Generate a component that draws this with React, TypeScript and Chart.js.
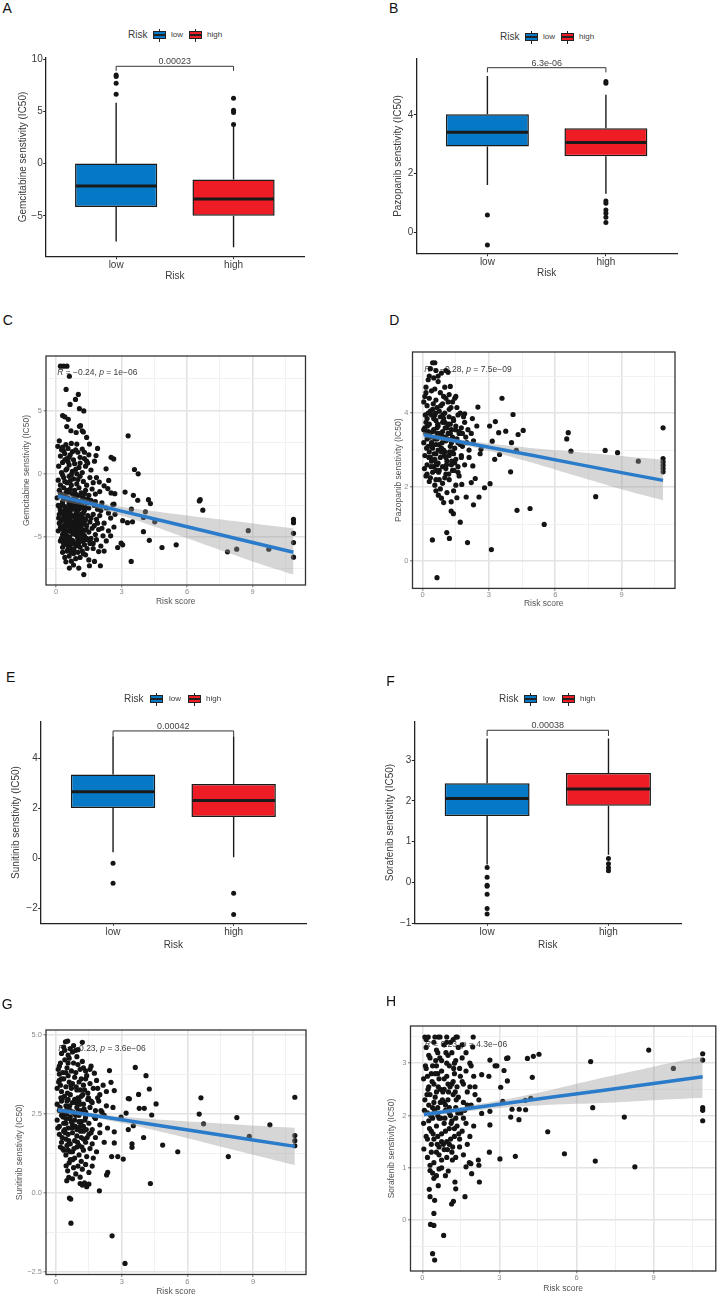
import React, { useEffect, useRef } from 'react';
import { Chart, registerables } from 'chart.js';

Chart.register(...registerables);

const FONT = '"Liberation Sans", Arial, Helvetica, sans-serif';

// ---------- Box plot data ----------
const riskGroups = ['low', 'high'];
const riskColors = ['#0679C6', '#EE1C25'];

// [lower whisker, Q1, median, Q3, upper whisker]
const gemBoxLow = [-7.45, -4.14, -2.13, 0.03, 5.83];
const gemBoxHigh = [-8.0, -4.97, -3.37, -1.5, 3.53];
const gemOutLow = [8.5, 8.35, 7.7, 6.66];
const gemOutHigh = [6.27, 5.13, 4.9, 3.76];
const gemBoxTicks = [-5, 0, 5, 10];
const gemBoxTickLabels = ['−5', '0', '5', '10'];
const gemP = '0.00023';

const pazBoxLow = [1.61, 2.92, 3.41, 4.02, 5.33];
const pazBoxHigh = [1.31, 2.59, 3.06, 3.55, 4.69];
const pazOutLow = [0.59, -0.43];
const pazOutHigh = [5.14, 5.08, 1.07, 0.99, 0.76, 0.65, 0.51, 0.33];
const pazBoxTicks = [0, 2, 4];
const pazBoxTickLabels = ['0', '2', '4'];
const pazP = '6.3e-06';

const sunBoxLow = [0.25, 2.03, 2.68, 3.37, 4.9];
const sunBoxHigh = [0.05, 1.67, 2.33, 2.99, 4.9];
const sunOutLow = [-0.19, -0.99];
const sunOutHigh = [-1.39, -2.24];
const sunBoxTicks = [-2, 0, 2, 4];
const sunBoxTickLabels = ['−2', '0', '2', '4'];
const sunP = '0.00042';

const sorBoxLow = [0.44, 1.63, 2.06, 2.43, 3.53];
const sorBoxHigh = [0.68, 1.88, 2.29, 2.68, 3.53];
const sorOutLow = [0.37, 0.13, -0.07, -0.09, -0.29, -0.64, -0.77];
const sorOutHigh = [0.59, 0.46, 0.36, 0.29];
const sorBoxTicks = [-1, 0, 1, 2, 3];
const sorBoxTickLabels = ['−1', '0', '1', '2', '3'];
const sorP = '0.00038';

// ---------- Scatter data (risk score, IC50) ----------
const riskTicksAll = [0, 1.5, 3, 4.5, 6, 7.5, 9, 10.5];
const riskTicksMajor = [0, 3, 6, 9];
const riskTickLabels = ['0', '3', '6', '9'];

const gemScatter = [
  [0.2,8.5],[0.35,8.5],[0.5,8.5],[0.61,7.7],[0.46,6.66],[1.02,6.27],[0.89,5.87],[0.64,5.48],[1.07,5.14],[1.27,4.96],
  [0.3,4.6],[0.4,4.5],[0.56,4.3],[0.49,3.73],[1.07,3.75],[1.12,3.8],[1.2,3.4],[1.25,3.3],[0.92,3.26],[0.68,3.4],
  [3.3,3.0],[1.4,2.87],[0.15,2.6],[1.53,2.35],[0.08,2.17],[0.95,2.35],[1.9,2.0],[0.7,2.4],[0.45,2.3],[0.3,2.1],
  [0.55,2.0],[1.2,1.95],[0.35,1.8],
  [0.2,1.4],[0.4,1.6],[0.5,1.2],[0.65,1.5],[0.8,1.1],[1.0,1.7],[1.1,1.3],[1.3,1.2],[1.5,1.5],[1.83,1.44],[2.52,1.3],
  [2.64,1.17],[0.9,1.9],[1.4,1.0],[1.76,1.0],
  [0.12,0.6],[0.3,0.9],[0.45,0.3],[0.6,0.7],[0.75,0.2],[0.85,0.8],[1.05,0.5],[1.2,0.1],[1.35,0.6],[1.6,0.3],[2.29,0.39],
  [0.25,0.1],[0.55,0.95],[0.95,0.0],[1.45,0.85],[3.59,0.34],[3.76,0.0],
  [0.1,-0.5],[0.2,-0.9],[0.35,-0.3],[0.5,-0.7],[0.6,-0.2],[0.7,-0.9],[0.8,-0.4],[0.95,-0.8],[1.1,-0.2],[1.25,-0.6],
  [1.4,-0.9],[1.55,-0.3],[1.7,-0.7],[1.98,-0.65],[2.41,-0.52],[2.2,-0.95],[0.4,-0.6],[0.65,-0.55],[1.0,-0.45],[1.85,-0.3],
  [0.05,-1.9],[0.15,-1.3],[0.25,-1.7],[0.35,-1.1],[0.45,-1.5],[0.55,-1.9],[0.65,-1.2],[0.75,-1.6],[0.85,-1.3],[0.95,-1.8],
  [1.05,-1.1],[1.15,-1.5],[1.25,-1.9],[1.35,-1.3],[1.5,-1.7],[1.65,-1.2],[1.8,-1.6],[2.0,-1.4],[2.37,-1.17],[2.52,-1.51],
  [2.69,-1.57],[0.5,-1.3],[0.8,-1.95],[1.1,-1.7],[3.16,-1.44],[3.54,-1.7],
  [0.1,-2.5],[0.2,-2.9],[0.3,-2.2],[0.4,-2.6],[0.5,-2.9],[0.6,-2.3],[0.7,-2.7],[0.8,-2.1],[0.9,-2.5],[1.0,-2.9],
  [1.1,-2.2],[1.2,-2.6],[1.3,-2.9],[1.4,-2.3],[1.5,-2.7],[1.6,-2.1],[1.75,-2.5],[1.9,-2.8],[2.1,-2.3],[2.3,-2.7],
  [2.6,-2.43],[2.65,-2.4],[0.35,-2.0],[0.65,-2.95],[1.05,-2.45],[1.45,-2.0],[0.25,-2.45],[0.55,-2.6],[0.85,-2.8],[1.15,-2.4],
  [3.74,-2.09],[4.23,-2.04],[4.32,-2.35],[6.56,-2.14],[6.6,-2.04],[6.72,-2.87],[3.45,-2.79],
  [0.15,-3.2],[0.25,-3.7],[0.35,-3.4],[0.45,-3.9],[0.55,-3.1],[0.65,-3.6],[0.75,-3.3],[0.85,-3.8],[0.95,-3.2],[1.05,-3.5],
  [1.15,-3.9],[1.25,-3.1],[1.35,-3.6],[1.45,-3.3],[1.55,-3.8],[1.7,-3.2],[1.85,-3.6],[2.0,-3.3],[2.2,-3.9],[2.5,-3.5],
  [2.7,-3.2],[0.5,-3.5],[0.9,-3.95],[1.2,-3.4],[0.3,-3.05],[0.75,-3.85],[0.4,-3.55],[0.6,-3.25],[1.0,-3.7],[1.3,-3.95],
  [4.09,-3.0],[4.0,-3.45],[4.52,-3.79],[3.05,-3.7],[3.27,-3.86],[3.5,-3.79],
  [0.1,-4.5],[0.2,-4.2],[0.3,-4.8],[0.4,-4.4],[0.5,-4.9],[0.6,-4.1],[0.7,-4.6],[0.8,-4.3],[0.9,-4.8],[1.0,-4.2],
  [1.1,-4.7],[1.2,-4.4],[1.3,-4.9],[1.4,-4.1],[1.5,-4.6],[1.65,-4.3],[1.8,-4.8],[1.95,-4.4],[2.15,-4.9],[2.4,-4.5],
  [2.65,-4.2],[0.45,-4.65],[0.85,-4.05],[1.25,-4.55],[0.35,-4.1],[0.65,-4.35],[0.95,-4.5],[1.15,-4.15],[4.0,-4.57],
  [0.2,-5.3],[0.3,-5.8],[0.4,-5.2],[0.5,-5.6],[0.6,-5.1],[0.7,-5.9],[0.8,-5.4],[0.9,-5.7],[1.0,-5.2],[1.1,-5.8],
  [1.2,-5.3],[1.3,-5.6],[1.4,-5.1],[1.55,-5.5],[1.7,-5.9],[1.85,-5.2],[2.05,-5.7],[2.3,-5.3],[2.98,-5.48],[3.05,-5.61],
  [2.82,-5.82],[0.55,-5.95],[1.05,-5.45],[0.35,-5.5],[0.75,-5.25],[4.27,-5.25],[4.85,-5.82],[5.5,-5.61],
  [0.3,-6.2],[0.4,-6.6],[0.5,-6.1],[0.6,-6.5],[0.7,-6.9],[0.8,-6.3],[0.9,-6.7],[1.0,-6.2],[1.1,-6.6],[1.2,-6.1],
  [1.35,-6.4],[1.5,-6.8],[1.95,-6.14],[1.76,-6.92],[2.2,-6.1],[0.45,-6.95],[3.44,-6.92],
  [0.61,-7.44],[1.04,-7.44],[1.53,-7.26],[2.03,-7.26],[1.27,-7.96],[0.8,-7.2],
  [8.8,-4.49],[7.85,-6.16],[8.27,-5.95],[9.74,-5.95],[10.87,-3.6],[10.87,-3.86],[10.87,-4.7],[10.87,-5.43],[10.87,-6.58]
];
const gemScatterDense = [
  [0.22,-3.0],[0.32,-3.6],[0.42,-4.2],[0.52,-4.5],[0.62,-5.0],[0.72,-5.5],[0.82,-6.0],[0.92,-3.1],[1.02,-3.3],[1.12,-3.55],
  [1.22,-4.8],[1.32,-5.2],[1.42,-5.9],[0.28,-4.35],[0.38,-5.0],[0.48,-5.35],[0.58,-5.75],[0.68,-6.2],[0.78,-4.75],[0.88,-4.6],
  [0.98,-5.0],[1.08,-4.0],[1.18,-5.0],[1.28,-3.7],[1.38,-4.4],[1.48,-5.2],[0.18,-2.7],[0.3,-2.45],[0.42,-2.9],[0.58,-2.1],
  [0.7,-2.35],[0.82,-2.6],[0.95,-2.2],[1.08,-2.75],[1.2,-2.05],[1.33,-2.65],[0.2,-1.55],[0.4,-1.75],[0.6,-1.45],[0.9,-1.6],
  [1.3,-1.55],[0.55,-3.75],[0.65,-4.0],[0.85,-3.45],[1.0,-4.4],[1.15,-3.2],[0.45,-3.15],[0.35,-4.65],[0.75,-4.15],[0.95,-5.55],
  [1.25,-6.3],[0.25,-5.1],[0.62,-5.3],[1.6,-5.1],[1.75,-4.1],[1.9,-3.9],[2.1,-4.3],[1.6,-3.5],[1.8,-2.2],[2.05,-2.9],
  [2.4,-3.1],[1.7,-5.5],[2.5,-4.9],[0.15,-3.9],[0.12,-3.5],[0.3,-0.1],[0.5,0.4],[0.7,-0.05],[0.9,0.35],[1.1,0.85],
  [0.4,1.1],[0.6,1.3],[0.25,1.9],[0.75,1.75],[1.3,1.7]
];
const gemCiX = [0.08, 1.5, 3, 5, 7, 9, 10.87];
const gemFit = [-1.75, -2.33, -2.95, -3.77, -4.6, -5.42, -6.19];
const gemCiLow = [-2.1, -2.58, -3.3, -4.47, -5.7, -6.92, -7.96];
const gemCiHigh = [-1.4, -2.08, -2.6, -3.07, -3.5, -3.92, -4.31];
const gemYTicks = [-7.5, -5, -2.5, 0, 2.5, 5, 7.5];
const gemYMajor = [-5, 0, 5];
const gemYLabels = ['−5', '0', '5'];

const pazScatter = [
  [0.45,5.36],[0.55,5.36],[0.35,5.2],[0.6,5.15],[0.85,5.08],[1.05,5.15],[1.15,5.1],[0.25,4.9],[0.5,4.95],[0.7,4.85],
  [1.0,4.7],[1.25,4.72],[0.15,4.55],[0.4,4.6],[0.8,4.55],[1.2,4.5],[1.5,4.45],[0.1,4.45],
  [0.05,4.3],[0.2,4.2],[0.3,4.4],[0.45,4.1],[0.6,4.35],[0.75,4.05],[0.9,4.25],[1.05,4.4],[1.2,4.1],[1.35,4.3],
  [1.55,4.15],[1.7,4.0],[1.9,3.98],[2.5,4.16],[0.35,4.05],[0.65,4.15],[1.45,4.4],[1.0,4.0],
  [0.1,3.6],[0.2,3.85],[0.3,3.7],[0.4,3.95],[0.5,3.55],[0.6,3.8],[0.7,3.65],[0.8,3.9],[0.9,3.5],[1.0,3.75],
  [1.1,3.6],[1.2,3.9],[1.3,3.55],[1.4,3.8],[1.5,3.65],[1.6,3.95],[1.75,3.6],[1.9,3.75],[2.05,3.55],[2.25,3.85],
  [2.45,3.65],[0.25,3.5],[0.55,3.95],[0.95,3.85],[1.25,3.7],[1.65,3.5],[0.15,3.75],[0.65,3.6],[1.15,3.7],
  [0.05,3.2],[0.15,3.45],[0.25,3.1],[0.35,3.35],[0.45,3.05],[0.55,3.3],[0.65,3.45],[0.75,3.15],[0.85,3.4],[0.95,3.0],
  [1.05,3.25],[1.15,3.45],[1.25,3.1],[1.35,3.35],[1.45,3.05],[1.55,3.3],[1.65,3.45],[1.8,3.1],[1.95,3.35],[2.1,3.0],
  [2.3,3.25],[2.64,3.02],[0.4,3.2],[0.7,3.0],[1.0,3.35],[1.3,3.2],[1.7,3.15],[2.2,3.45],[0.2,3.3],[0.6,3.15],
  [0.1,2.85],[0.2,2.6],[0.3,2.95],[0.4,2.7],[0.5,2.55],[0.6,2.9],[0.7,2.65],[0.8,2.8],[0.9,2.55],[1.0,2.95],
  [1.1,2.7],[1.2,2.85],[1.3,2.6],[1.4,2.9],[1.5,2.75],[1.6,2.55],[1.75,2.85],[1.9,2.6],[2.27,2.57],[2.1,2.8],
  [0.35,2.8],[0.65,2.6],[1.05,2.5],[1.45,2.65],[0.55,2.75],[0.85,2.95],
  [0.15,2.3],[0.3,2.15],[0.45,2.4],[0.6,2.2],[0.75,2.45],[0.9,2.1],[1.05,2.35],[1.2,2.2],[1.35,2.45],[1.5,2.05],
  [1.65,2.3],[1.77,2.07],[2.2,2.12],[2.38,2.23],[0.55,2.05],[1.0,2.25],
  [0.6,1.9],[0.71,1.78],[0.8,1.95],[0.95,1.58],[1.1,1.85],[1.29,1.6],[1.55,1.71],[1.97,1.73],[2.3,1.52],[2.55,1.73],
  [0.85,1.7],[1.4,1.9],
  [1.29,1.35],[1.39,1.28],[1.7,1.05],[1.09,0.77],[1.21,0.61],[0.44,0.57],[2.03,0.5],[3.11,0.31],[0.65,-0.45],
  [4.27,1.37],[4.86,1.42],[5.5,0.99],[2.8,1.98],[3.05,2.09],[3.98,2.41],[3.26,2.75],
  [3.59,4.4],[4.09,3.96],[3.03,3.65],[3.29,3.77],[3.76,3.51],[3.44,3.47],[4.32,3.42],[4.55,3.53],[3.15,3.24],[4.02,3.2],
  [4.24,2.99],[3.48,2.88],[2.6,2.9],[6.52,3.3],[6.59,3.47],[6.71,2.97],[8.26,2.99],[8.82,2.93],[9.76,2.7],
  [10.88,3.6],[10.88,2.77],[10.88,2.68],[10.88,2.59],[10.88,2.5],[10.88,2.41],[7.83,1.74]
];
const pazScatterDense = [
  [0.12,3.95],[0.22,3.65],[0.32,3.4],[0.42,3.15],[0.52,2.9],[0.62,2.65],[0.72,2.4],[0.82,4.2],[0.92,3.95],[1.02,3.6],
  [1.12,3.3],[1.22,2.95],[1.32,2.7],[1.42,2.45],[0.18,3.05],[0.28,2.8],[0.38,2.55],[0.48,4.25],[0.58,4.0],[0.68,3.7],
  [0.78,3.45],[0.88,3.2],[0.98,2.85],[1.08,2.6],[1.18,2.35],[1.28,4.15],[1.38,3.85],[1.48,3.55],[0.08,2.5],[0.25,4.0],
  [0.45,3.5],[0.65,3.3],[0.85,3.05],[1.05,2.8],[1.25,3.45],[0.35,2.25],[0.75,2.2],[1.15,4.3],[0.15,4.7],[0.55,4.65],
  [0.95,4.45],[0.3,5.0],[0.7,5.0],[1.6,3.2],[1.75,2.8],[1.85,3.9],[1.6,2.4],[2.0,3.2],[1.8,3.45],[0.05,3.55],
  [0.5,3.85],[0.9,3.75],[1.35,2.95],[0.2,2.35],[0.6,2.45]
];
const pazCiX = [0.05, 1.5, 3, 5, 7, 9, 10.88];
const pazFit = [3.41, 3.245, 3.075, 2.85, 2.62, 2.39, 2.18];
const pazCiLow = [3.33, 3.185, 2.975, 2.65, 2.29, 1.94, 1.64];
const pazCiHigh = [3.49, 3.305, 3.175, 3.05, 2.95, 2.84, 2.74];
const pazYTicks = [0, 1, 2, 3, 4, 5];
const pazYMajor = [0, 2, 4];
const pazYLabels = ['0', '2', '4'];

const sunScatter = [
  [0.43,4.77],[0.53,4.79],[0.35,4.6],[0.65,4.55],[0.9,4.5],[1.0,4.52],[1.2,4.75],[0.25,4.4],[0.55,4.35],[0.75,4.45],
  [0.1,3.9],[0.2,4.1],[0.3,3.8],[0.4,4.2],[0.5,3.95],[0.6,4.25],[0.7,3.85],[0.8,4.1],[0.9,3.8],[1.0,4.05],
  [1.1,3.9],[1.2,4.15],[1.35,3.85],[1.6,4.0],[1.75,3.78],[2.44,3.86],[0.15,3.75],[0.45,3.8],[1.25,3.95],
  [0.05,3.3],[0.15,3.55],[0.25,3.2],[0.35,3.6],[0.45,3.35],[0.55,3.7],[0.65,3.1],[0.75,3.45],[0.85,3.65],[0.95,3.25],
  [1.05,3.5],[1.15,3.05],[1.25,3.4],[1.35,3.6],[1.45,3.15],[1.55,3.45],[1.7,3.3],[1.85,3.55],[2.0,3.1],[2.15,3.4],
  [2.51,3.49],[2.66,3.23],[0.3,3.0],[0.6,3.5],[1.0,3.0],[1.4,3.7],[1.9,3.0],[2.3,3.2],[0.2,3.4],[0.7,3.3],[1.1,3.25],
  [0.05,2.8],[0.15,2.6],[0.25,2.9],[0.35,2.55],[0.45,2.75],[0.55,2.95],[0.65,2.6],[0.75,2.85],[0.85,2.5],[0.95,2.7],
  [1.05,2.9],[1.15,2.6],[1.25,2.8],[1.35,2.55],[1.45,2.95],[1.55,2.7],[1.65,2.85],[1.8,2.6],[1.95,2.9],[2.1,2.55],
  [2.3,2.75],[2.6,2.7],[3.35,2.97],[3.3,2.98],[4.03,2.67],[3.8,2.67],[4.57,2.81],[3.2,2.52],[0.5,2.65],[0.9,2.85],
  [0.05,2.3],[0.15,2.1],[0.25,2.45],[0.35,2.2],[0.45,2.35],[0.55,2.05],[0.65,2.4],[0.75,2.15],[0.85,2.3],[0.95,2.0],
  [1.05,2.45],[1.15,2.25],[1.25,2.1],[1.35,2.4],[1.5,2.2],[1.65,2.0],[1.8,2.35],[2.0,2.15],[2.2,2.45],[2.35,2.05],
  [2.97,2.39],[4.37,2.46],[3.53,2.12],[3.3,2.0],[0.4,2.0],[0.7,2.25],[1.1,2.1],
  [0.15,1.85],[0.25,1.6],[0.35,1.95],[0.45,1.7],[0.55,1.85],[0.65,1.55],[0.75,1.9],[0.85,1.65],[0.95,1.8],[1.05,1.5],
  [1.15,1.75],[1.25,1.95],[1.35,1.6],[1.5,1.85],[1.65,1.55],[1.8,1.75],[2.66,1.93],[2.66,1.58],[2.0,1.9],[2.2,1.6],
  [0.5,1.5],[4.0,1.75],[3.47,1.55],
  [0.3,1.4],[0.45,1.2],[0.55,1.35],[0.65,1.05],[0.75,1.3],[0.85,1.1],[0.95,1.45],[1.05,1.2],[1.15,1.0],[1.25,1.35],
  [1.4,1.15],[1.55,1.4],[1.7,1.1],[1.85,1.3],[2.54,1.15],[2.82,1.15],[3.07,1.07],[3.47,1.44],[4.87,1.51],[5.56,1.3],
  [7.87,1.15],
  [0.46,0.86],[0.53,0.7],[0.6,0.95],[0.8,0.8],[0.9,0.6],[1.0,0.85],[1.1,0.5],[1.2,0.75],[1.35,0.9],[1.5,0.65],
  [1.65,0.85],[2.36,0.65],[2.31,0.57],[0.49,0.39],[0.58,0.49],[1.1,0.3],[1.2,0.25],[1.3,0.32],[1.4,0.2],[1.5,0.28],
  [0.75,0.45],
  [1.98,0.07],[4.31,0.3],[0.61,-0.16],[0.67,-0.19],[0.68,-0.95],[2.56,-1.35],[3.15,-2.22],
  [3.62,3.96],[4.11,3.7],[4.26,3.28],[3.77,3.11],[6.62,3.0],[6.54,2.49],[6.74,2.18],[8.26,2.38],[9.77,2.15],[8.83,1.79],
  [10.91,3.02],[10.91,1.81],[10.91,1.65],[10.91,1.49]
];
const sunScatterDense = [
  [0.12,3.5],[0.22,3.0],[0.32,2.4],[0.42,1.9],[0.52,3.15],[0.62,2.75],[0.72,2.05],[0.82,1.4],[0.92,3.35],[1.02,2.6],
  [1.12,1.95],[1.22,3.1],[1.32,2.3],[1.42,1.75],[0.18,2.7],[0.28,1.75],[0.38,3.05],[0.48,2.5],[0.58,1.65],[0.68,3.4],
  [0.78,2.55],[0.88,2.1],[0.98,1.6],[1.08,2.8],[1.18,1.45],[1.28,2.65],[1.38,2.0],[1.48,3.0],[0.08,2.05],[0.25,3.6],
  [0.45,2.2],[0.65,1.3],[0.85,2.95],[1.05,2.25],[1.25,1.7],[0.35,1.35],[0.75,1.05],[1.15,3.6],[0.15,4.0],[0.55,4.1],
  [0.95,4.3],[0.4,4.5],[0.8,4.65],[1.6,2.9],[1.75,2.4],[1.9,3.3],[1.6,1.9],[2.05,2.6],[1.55,3.9],[0.5,2.9],
  [0.9,2.45],[1.3,3.25],[0.2,1.45],[0.6,2.35]
];
const sunCiX = [0.08, 1.5, 3, 5, 7, 9, 10.91];
const sunFit = [2.62, 2.47, 2.31, 2.1, 1.885, 1.67, 1.47];
const sunCiLow = [2.54, 2.4, 2.21, 1.9, 1.555, 1.21, 0.88];
const sunCiHigh = [2.7, 2.54, 2.41, 2.3, 2.215, 2.13, 2.06];
const sunYTicks = [-2.5, -1.25, 0, 1.25, 2.5, 3.75, 5];
const sunYMajor = [-2.5, 0, 2.5, 5];
const sunYLabels = ['−2.5', '0.0', '2.5', '5.0'];

const sorScatter = [
  [0.1,3.5],[0.23,3.5],[0.49,3.5],[0.62,3.5],[0.69,3.5],[0.95,3.5],[1.31,3.5],[1.36,3.5],[1.98,3.5],
  [1.96,3.31],[2.63,3.06],[3.28,3.09],[3.33,3.1],[4.09,3.09],[4.32,3.13],[4.54,3.17],[6.55,3.03],[8.81,3.25],[9.77,2.9],
  [10.91,3.18],[10.91,3.06],
  [2.83,2.95],[2.9,2.95],[3.18,2.86],[4.28,2.73],[3.31,2.66],[2.59,2.75],[2.31,2.78],[3.05,2.54],[3.13,2.27],[4.01,2.29],
  [4.22,2.33],[3.49,2.12],[3.77,2.12],[4.02,2.11],[3.44,1.97],[3.76,1.92],[2.63,2.08],[2.31,2.04],[6.63,2.15],[7.86,1.97],
  [10.91,2.15],[10.91,2.1],[10.91,1.9],[4.88,1.69],[5.53,1.27],[6.73,1.13],[8.27,1.02],[2.63,1.82],[3.02,1.17],[3.62,1.22],
  [2.61,1.3],
  [2.18,1.15],[2.2,1.05],[1.89,1.08],[1.83,1.1],[1.7,1.02],[1.92,0.89],[2.22,0.73],[1.66,0.45],[1.27,0.73],[1.21,0.36],
  [1.14,0.31],[1.3,0.6],[1.01,0.94],[1.17,1.15],[0.62,0.66],[0.27,0.59],[0.3,0.45],[0.48,0.38],[0.45,0.13],[0.32,-0.08],
  [0.45,-0.1],[0.83,-0.29],[0.4,-0.64],[0.48,-0.76],[0.06,1.36],[0.3,0.95],[0.4,0.9],[0.55,0.85],[0.45,0.8],[0.65,0.98],
  [0.75,1.0],[0.9,0.85],
  [0.15,3.3],[0.3,3.1],[0.45,3.4],[0.6,3.2],[0.75,3.05],[0.85,3.35],[1.0,3.15],[1.1,3.4],[1.25,3.0],[1.4,3.3],
  [1.55,3.1],[1.7,3.2],[1.85,3.0],[1.2,3.45],[0.95,3.0],
  [0.05,2.7],[0.15,2.9],[0.25,2.55],[0.35,2.8],[0.45,2.6],[0.55,2.95],[0.65,2.7],[0.75,2.85],[0.85,2.5],[0.95,2.75],
  [1.05,2.95],[1.15,2.6],[1.25,2.8],[1.35,2.55],[1.45,2.9],[1.55,2.65],[1.7,2.85],[1.85,2.55],[2.0,2.75],[0.4,2.95],
  [0.7,2.5],[1.2,2.65],[0.2,2.75],[0.6,2.8],[1.0,2.6],
  [0.1,2.3],[0.2,2.05],[0.3,2.4],[0.4,2.15],[0.5,2.35],[0.6,2.0],[0.7,2.25],[0.8,2.45],[0.9,2.1],[1.0,2.3],
  [1.1,2.0],[1.2,2.4],[1.3,2.15],[1.4,2.35],[1.5,2.05],[1.6,2.25],[1.75,2.45],[1.9,2.2],[2.05,2.4],[2.2,2.3],
  [0.25,2.2],[0.55,2.45],[1.05,2.15],[1.65,2.1],[0.35,2.0],[0.85,2.25],
  [0.05,1.85],[0.15,1.6],[0.25,1.9],[0.35,1.7],[0.45,1.55],[0.55,1.8],[0.65,1.95],[0.75,1.65],[0.85,1.85],[0.95,1.5],
  [1.05,1.75],[1.15,1.9],[1.25,1.6],[1.35,1.8],[1.45,1.55],[1.55,1.7],[1.7,1.85],[1.85,1.6],[2.0,1.8],[0.4,1.95],
  [0.9,1.7],[1.3,1.95],[0.6,1.6],[1.1,1.55],
  [0.2,1.2],[0.35,1.45],[0.45,1.1],[0.55,1.3],[0.65,1.4],[0.75,1.15],[0.85,1.35],[0.95,1.2],[1.05,1.45],[1.15,1.3],
  [1.3,1.2],[1.45,1.4],[1.6,1.25],[1.75,1.45],[0.3,1.05]
];
const sorScatterDense = [
  [0.12,2.95],[0.22,2.5],[0.32,2.0],[0.42,1.65],[0.52,3.05],[0.62,2.55],[0.72,1.95],[0.82,1.45],[0.92,3.2],[1.02,2.45],
  [1.12,1.85],[1.22,2.9],[1.32,2.3],[1.42,1.65],[0.18,2.4],[0.28,1.75],[0.38,2.65],[0.48,2.1],[0.58,1.45],[0.68,3.1],
  [0.78,2.3],[0.88,1.95],[0.98,1.35],[1.08,2.55],[1.18,1.4],[1.28,2.45],[1.38,2.05],[1.48,2.75],[0.08,2.1],[0.25,3.15],
  [0.45,2.25],[0.65,1.25],[0.85,2.7],[1.05,2.05],[1.25,1.75],[0.35,1.3],[0.75,1.5],[1.15,3.2],[0.15,3.45],[0.55,3.25],
  [0.95,3.4],[1.6,2.6],[1.75,2.2],[1.9,2.95],[1.6,1.95],[2.05,2.55],[1.55,3.35],[0.5,2.8],[0.9,2.2],[1.3,3.05],
  [0.2,1.55],[0.6,2.15]
];
const sorCiX = [0.06, 1.5, 3, 5, 7, 9, 10.91];
const sorFit = [2.02, 2.115, 2.215, 2.348, 2.48, 2.613, 2.74];
const sorCiLow = [1.97, 2.065, 2.145, 2.208, 2.24, 2.293, 2.34];
const sorCiHigh = [2.07, 2.165, 2.285, 2.488, 2.72, 2.933, 3.13];
const sorYTicks = [-0.5, 0, 0.5, 1, 1.5, 2, 2.5, 3, 3.5];
const sorYMajor = [0, 1, 2, 3];
const sorYLabels = ['0', '1', '2', '3'];

// ---------- Panel specs (layout only) ----------
const boxPanels = [
  {
    key: 'A', box: { left: 0, top: 45, w: 340, h: 245 }, area: { l: 45.7, t: 57.3, r: 304, b: 256.7 },
    yMin: -8.9, yMax: 10.19, yTitleX: 23.3, xTitleY: 276,
    title: 'Gemcitabine senstivity (IC50)', stats: [gemBoxLow, gemBoxHigh], out: [gemOutLow, gemOutHigh],
    ticks: gemBoxTicks, tickLabels: gemBoxTickLabels, p: gemP, bracket: [9.33, 8.89],
  },
  {
    key: 'B', box: { left: 362, top: 45, w: 340, h: 245 }, area: { l: 416.3, t: 58.3, r: 677, b: 253.7 },
    yMin: -0.73, yMax: 5.93, yTitleX: 398.7, xTitleY: 273.3,
    title: 'Pazopanib senstivity (IC50)', stats: [pazBoxLow, pazBoxHigh], out: [pazOutLow, pazOutHigh],
    ticks: pazBoxTicks, tickLabels: pazBoxTickLabels, p: pazP, bracket: [5.61, 5.45],
  },
  {
    key: 'E', box: { left: 0, top: 690, w: 340, h: 265 }, area: { l: 40.7, t: 721.7, r: 306, b: 923.3 },
    yMin: -2.59, yMax: 5.48, yTitleX: 16.7, xTitleY: 945,
    title: 'Sunitinib senstivity (IC50)', stats: [sunBoxLow, sunBoxHigh], out: [sunOutLow, sunOutHigh],
    ticks: sunBoxTicks, tickLabels: sunBoxTickLabels, p: sunP, bracket: [5.11, 4.91],
  },
  {
    key: 'F', box: { left: 362, top: 690, w: 340, h: 265 }, area: { l: 414.3, t: 721.7, r: 681.3, b: 923.3 },
    yMin: -1.0, yMax: 3.94, yTitleX: 390.3, xTitleY: 945.5,
    title: 'Sorafenib senstivity (IC50)', stats: [sorBoxLow, sorBoxHigh], out: [sorOutLow, sorOutHigh],
    ticks: sorBoxTicks, tickLabels: sorBoxTickLabels, p: sorP, bracket: [3.73, 3.59],
  },
];

const scatterPanels = [
  {
    key: 'C', box: { left: 0, top: 340, w: 340, h: 275 }, area: { l: 46, t: 356, r: 305.5, b: 585 },
    yMin: -8.78, yMax: 9.3, yTitleX: 27, xTitleY: 601.7,
    title: 'Gemcitabine senstivity (IC50)', points: [...gemScatter, ...gemScatterDense],
    ciX: gemCiX, fit: gemFit, ciLow: gemCiLow, ciHigh: gemCiHigh,
    yTicks: gemYTicks, yMajor: gemYMajor, yLabels: gemYLabels,
    ann: { x: 0.05, y: 7.96, r: ' = −0.24, ', p: ' = 1e−06' },
  },
  {
    key: 'D', box: { left: 362, top: 340, w: 340, h: 275 }, area: { l: 412.5, t: 352, r: 675, b: 588.4 },
    yMin: -0.74, yMax: 5.65, yTitleX: 398.7, xTitleY: 604,
    title: 'Pazopanib senstivity (IC50)', points: [...pazScatter, ...pazScatterDense],
    ciX: pazCiX, fit: pazFit, ciLow: pazCiLow, ciHigh: pazCiHigh,
    yTicks: pazYTicks, yMajor: pazYMajor, yLabels: pazYLabels,
    ann: { x: 0.07, y: 5.16, r: ' = −0.28, ', p: ' = 7.5e−09' },
  },
  {
    key: 'G', box: { left: 0, top: 1010, w: 340, h: 293 }, area: { l: 46, t: 1030, r: 306, b: 1274.5 },
    yMin: -2.57, yMax: 5.14, yTitleX: 20, xTitleY: 1291.7,
    title: 'Sunitinib senstivity (IC50)', points: [...sunScatter, ...sunScatterDense],
    ciX: sunCiX, fit: sunFit, ciLow: sunCiLow, ciHigh: sunCiHigh,
    yTicks: sunYTicks, yMajor: sunYMajor, yLabels: sunYLabels,
    ann: { x: 0.1, y: 4.56, r: ' = −0.23, ', p: ' = 3.6e−06' },
  },
  {
    key: 'H', box: { left: 362, top: 1010, w: 362, h: 293 }, area: { l: 410.5, t: 1026, r: 715.8, b: 1271 },
    yMin: -0.97, yMax: 3.71, yTitleX: 392, xTitleY: 1288.3,
    title: 'Sorafenib senstivity (IC50)', points: [...sorScatter, ...sorScatterDense],
    ciX: sorCiX, fit: sorFit, ciLow: sorCiLow, ciHigh: sorCiHigh,
    yTicks: sorYTicks, yMajor: sorYMajor, yLabels: sorYLabels,
    ann: { x: 0.09, y: 3.36, r: ' = 0.23, ', p: ' = 4.3e−06' },
  },
];

const panelLetters = [
  { t: 'A', x: 2.5, base: 13.3 }, { t: 'B', x: 389, base: 12.7 },
  { t: 'C', x: 2.7, base: 325.3 }, { t: 'D', x: 389.3, base: 325.3 },
  { t: 'E', x: 6, base: 682.3 }, { t: 'F', x: 386.3, base: 685.7 },
  { t: 'G', x: 1.7, base: 1009 }, { t: 'H', x: 386, base: 1005.7 },
];

const legends = [
  { cy: 35, risk: 128, g1: 153, low: 171, g2: 189, high: 207 },
  { cy: 37, risk: 500, g1: 525, low: 543, g2: 561, high: 579 },
  { cy: 699, risk: 124, g1: 150, low: 169, g2: 188, high: 206 },
  { cy: 699, risk: 499, g1: 524, low: 543, g2: 562, high: 580 },
];

function layoutFor(s, titleLH) {
  return {
    padding: { left: 0, top: s.area.t - s.box.top, right: s.box.left + s.box.w - s.area.r, bottom: 0 },
    yW: s.area.l - s.box.left,
    xH: s.box.top + s.box.h - s.area.b,
    yTitlePad: s.yTitleX - s.box.left - titleLH / 2,
    xTitlePad: s.box.top + s.box.h - s.xTitleY - titleLH / 2,
  };
}

function buildBox(canvas, s) {
  const L = layoutFor(s, 12);
  const boxData = s.stats.map((b, i) => ({ x: i, y: [b[1], b[3]] }));
  const outData = [];
  s.out.forEach((arr, i) => arr.forEach((v) => outData.push({ x: i, y: v })));
  const extras = {
    id: 'boxExtras',
    afterDatasetsDraw(chart) {
      const { ctx } = chart;
      const x = chart.scales.x, y = chart.scales.y;
      const meta = chart.getDatasetMeta(0);
      ctx.save();
      ctx.strokeStyle = '#1a1a1a';
      s.stats.forEach((b, i) => {
        const el = meta.data[i];
        const cx = x.getPixelForValue(i);
        const hw = el.width / 2;
        ctx.lineWidth = 1.4;
        ctx.beginPath();
        ctx.moveTo(cx, y.getPixelForValue(b[3]));
        ctx.lineTo(cx, y.getPixelForValue(b[4]));
        ctx.moveTo(cx, y.getPixelForValue(b[1]));
        ctx.lineTo(cx, y.getPixelForValue(b[0]));
        ctx.stroke();
        ctx.lineWidth = 3;
        ctx.beginPath();
        const my = y.getPixelForValue(b[2]);
        ctx.moveTo(cx - hw + 0.8, my);
        ctx.lineTo(cx + hw - 0.8, my);
        ctx.stroke();
      });
      const x0 = x.getPixelForValue(0), x1 = x.getPixelForValue(1);
      const by = y.getPixelForValue(s.bracket[0]), ty = y.getPixelForValue(s.bracket[1]);
      ctx.lineWidth = 1;
      ctx.strokeStyle = '#333';
      ctx.beginPath();
      ctx.moveTo(x0, ty); ctx.lineTo(x0, by); ctx.lineTo(x1, by); ctx.lineTo(x1, ty);
      ctx.stroke();
      ctx.fillStyle = '#444';
      ctx.font = `9px ${FONT}`;
      ctx.textAlign = 'center';
      ctx.textBaseline = 'alphabetic';
      ctx.fillText(s.p, (x0 + x1) / 2, by - 2);
      ctx.restore();
    },
  };
  return new Chart(canvas, {
    type: 'bar',
    data: {
      datasets: [
        {
          type: 'bar', data: boxData, backgroundColor: riskColors, borderColor: '#1a1a1a', borderWidth: 1.5,
          borderSkipped: false, categoryPercentage: 1, barPercentage: 0.7, order: 2,
        },
        {
          type: 'scatter', data: outData, pointRadius: 2.5, backgroundColor: '#151515', borderWidth: 0, order: 1,
        },
      ],
    },
    options: {
      animation: false, responsive: false, events: [],
      layout: { padding: L.padding },
      plugins: { legend: { display: false }, tooltip: { enabled: false } },
      scales: {
        x: {
          type: 'linear', min: -0.6, max: 1.6, offset: false,
          afterBuildTicks: (sc) => { sc.ticks = riskGroups.map((_, i) => ({ value: i })); },
          afterFit: (sc) => { sc.height = L.xH; },
          ticks: {
            autoSkip: false, maxRotation: 0, padding: 0, color: '#3a3a3a', font: { family: FONT, size: 10 },
            callback: (v) => riskGroups[v] ?? '',
          },
          grid: { offset: false, drawOnChartArea: false, drawTicks: true, tickLength: 2.5, tickColor: '#222', tickWidth: 1 },
          border: { display: true, color: '#222', width: 1.3 },
          title: { display: true, text: 'Risk', color: '#3a3a3a', font: { family: FONT, size: 10 }, padding: { top: 0, bottom: L.xTitlePad } },
        },
        y: {
          type: 'linear', min: s.yMin, max: s.yMax,
          afterBuildTicks: (sc) => { sc.ticks = s.ticks.map((v) => ({ value: v })); },
          afterFit: (sc) => { sc.width = L.yW; },
          ticks: {
            padding: 0.5, color: '#3a3a3a', font: { family: FONT, size: 10 },
            callback: (v) => { const i = s.ticks.indexOf(v); return i >= 0 ? s.tickLabels[i] : ''; },
          },
          grid: { drawOnChartArea: false, drawTicks: true, tickLength: 2.5, tickColor: '#222', tickWidth: 1 },
          border: { display: true, color: '#222', width: 1.3 },
          title: { display: true, text: s.title, color: '#3a3a3a', font: { family: FONT, size: 10 }, padding: { top: L.yTitlePad, bottom: 0 } },
        },
      },
    },
    plugins: [extras],
  });
}

function buildScatter(canvas, s) {
  const L = layoutFor(s, 10.2);
  const isMaj = (list, v) => list.indexOf(v) >= 0;
  const extras = {
    id: 'scatterExtras',
    beforeDatasetsDraw(chart) {
      const { ctx } = chart;
      const x = chart.scales.x, y = chart.scales.y;
      let px = x.getPixelForValue(s.ann.x);
      const py = y.getPixelForValue(s.ann.y);
      ctx.save();
      ctx.fillStyle = '#3a3a3a';
      ctx.textBaseline = 'middle';
      ctx.textAlign = 'left';
      const parts = [['R', true], [s.ann.r, false], ['p', true], [s.ann.p, false]];
      parts.forEach(([t, it]) => {
        ctx.font = `${it ? 'italic ' : ''}8.5px ${FONT}`;
        ctx.fillText(t, px, py);
        px += ctx.measureText(t).width;
      });
      ctx.restore();
    },
    afterDatasetsDraw(chart) {
      const { ctx, chartArea: a } = chart;
      ctx.save();
      ctx.strokeStyle = '#333';
      ctx.lineWidth = 1.3;
      ctx.strokeRect(a.left, a.top, a.right - a.left, a.bottom - a.top);
      ctx.restore();
    },
  };
  return new Chart(canvas, {
    type: 'scatter',
    data: {
      datasets: [
        {
          type: 'scatter', data: s.points.map(([x, y]) => ({ x, y })), pointRadius: 2.6,
          backgroundColor: '#141414', borderWidth: 0, order: 3,
        },
        {
          type: 'line', data: s.ciX.map((x, i) => ({ x, y: s.ciHigh[i] })), borderWidth: 0, pointRadius: 0,
          fill: '+1', backgroundColor: 'rgba(153,153,153,0.4)', tension: 0.3, order: 2,
        },
        {
          type: 'line', data: s.ciX.map((x, i) => ({ x, y: s.ciLow[i] })), borderWidth: 0, pointRadius: 0,
          fill: false, tension: 0.3, order: 2,
        },
        {
          type: 'line', data: s.ciX.map((x, i) => ({ x, y: s.fit[i] })), borderColor: '#2A7BCA', borderWidth: 3.5,
          pointRadius: 0, fill: false, order: 0,
        },
      ],
    },
    options: {
      animation: false, responsive: false, events: [],
      layout: { padding: L.padding },
      plugins: { legend: { display: false }, tooltip: { enabled: false } },
      scales: {
        x: {
          type: 'linear', min: -0.46, max: 11.42,
          afterBuildTicks: (sc) => { sc.ticks = riskTicksAll.map((v) => ({ value: v })); },
          afterFit: (sc) => { sc.height = L.xH; },
          ticks: {
            autoSkip: false, maxRotation: 0, padding: 0, color: '#8a8a8a', font: { family: FONT, size: 7.5 },
            callback: (v) => { const i = riskTicksMajor.indexOf(v); return i >= 0 ? riskTickLabels[i] : ''; },
          },
          grid: {
            color: (c) => (isMaj(riskTicksMajor, c.tick.value) ? '#E3E3E3' : '#EFEFEF'),
            lineWidth: (c) => (isMaj(riskTicksMajor, c.tick.value) ? 1.6 : 0.9),
            drawTicks: true, tickLength: 2.5, tickWidth: 1,
            tickColor: (c) => (isMaj(riskTicksMajor, c.tick.value) ? '#777' : 'rgba(0,0,0,0)'),
          },
          border: { display: false },
          title: { display: true, text: 'Risk score', color: '#555', font: { family: FONT, size: 8.5 }, padding: { top: 0, bottom: L.xTitlePad } },
        },
        y: {
          type: 'linear', min: s.yMin, max: s.yMax,
          afterBuildTicks: (sc) => { sc.ticks = s.yTicks.map((v) => ({ value: v })); },
          afterFit: (sc) => { sc.width = L.yW; },
          ticks: {
            autoSkip: false, padding: 1.5, color: '#8a8a8a', font: { family: FONT, size: 7.5 },
            callback: (v) => { const i = s.yMajor.indexOf(v); return i >= 0 ? s.yLabels[i] : ''; },
          },
          grid: {
            color: (c) => (isMaj(s.yMajor, c.tick.value) ? '#E3E3E3' : '#EFEFEF'),
            lineWidth: (c) => (isMaj(s.yMajor, c.tick.value) ? 1.6 : 0.9),
            drawTicks: true, tickLength: 2.5, tickWidth: 1,
            tickColor: (c) => (isMaj(s.yMajor, c.tick.value) ? '#777' : 'rgba(0,0,0,0)'),
          },
          border: { display: false },
          title: { display: true, text: s.title, color: '#555', font: { family: FONT, size: 8.5 }, padding: { top: L.yTitlePad, bottom: 0 } },
        },
      },
    },
    plugins: [extras],
  });
}

function ChartCanvas({ spec, build }) {
  const ref = useRef(null);
  useEffect(() => {
    const chart = build(ref.current, spec);
    return () => chart.destroy();
  }, []);
  const b = spec.box;
  return (
    <canvas
      ref={ref}
      width={b.w}
      height={b.h}
      style={{ position: 'absolute', left: b.left, top: b.top, width: b.w, height: b.h }}
    />
  );
}

function Txt({ x, top, size, color, children }) {
  return (
    <div style={{
      position: 'absolute', left: x, top, fontSize: size, lineHeight: `${size}px`, fontFamily: FONT,
      color, whiteSpace: 'nowrap',
    }}>{children}</div>
  );
}

function Glyph({ left, cy, color }) {
  return (
    <div style={{ position: 'absolute', left, top: cy - 6.5, width: 13, height: 13 }}>
      <div style={{ position: 'absolute', left: 6, top: 0, width: 1, height: 13, background: '#222' }} />
      <div style={{
        position: 'absolute', left: 0, top: 2.2, width: 13, height: 8.6, boxSizing: 'border-box',
        border: '1.3px solid #222', background: color,
      }} />
      <div style={{ position: 'absolute', left: 1, top: 5.8, width: 11, height: 1.4, background: '#222' }} />
    </div>
  );
}

export default function App() {
  return (
    <div style={{ position: 'absolute', left: 0, top: 0, width: 724, height: 1303, background: '#fff', overflow: 'hidden' }}>
      {boxPanels.map((s) => <ChartCanvas key={s.key} spec={s} build={buildBox} />)}
      {scatterPanels.map((s) => <ChartCanvas key={s.key} spec={s} build={buildScatter} />)}
      {legends.map((g, i) => (
        <React.Fragment key={i}>
          <Txt x={g.risk} top={g.cy - 4.9} size={10} color="#3a3a3a">Risk</Txt>
          <Glyph left={g.g1} cy={g.cy} color={riskColors[0]} />
          <Txt x={g.low} top={g.cy - 3.9} size={8} color="#3a3a3a">{riskGroups[0]}</Txt>
          <Glyph left={g.g2} cy={g.cy} color={riskColors[1]} />
          <Txt x={g.high} top={g.cy - 3.9} size={8} color="#3a3a3a">{riskGroups[1]}</Txt>
        </React.Fragment>
      ))}
      {panelLetters.map((l) => (
        <Txt key={l.t} x={l.x} top={l.base - 0.8465 * 14} size={14} color="#111">{l.t}</Txt>
      ))}
    </div>
  );
}
